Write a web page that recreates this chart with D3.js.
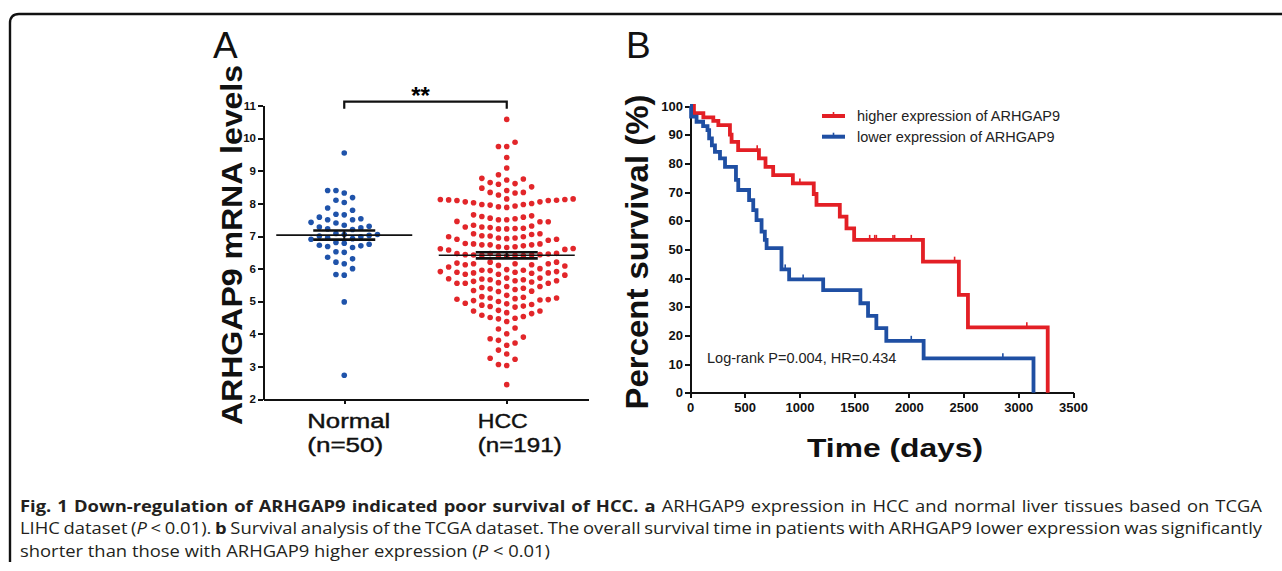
<!DOCTYPE html>
<html>
<head>
<meta charset="utf-8">
<script src="https://cdn.jsdelivr.net/npm/d3@7"></script>
<style>
  body { margin: 0; background: #fff; }
  svg { display: block; }
  .axis path, .axis line { stroke: #111; stroke-width: 2px; shape-rendering: crispEdges; }
  .axis text { font-family: "Liberation Sans", Arial, sans-serif; font-weight: bold; fill: #111; }
  .caption { font-family: "Open Sans", sans-serif; font-size: 16px; fill: #231f20; white-space: pre; }
</style>
</head>
<body>
<script>
const width = 1282;
const height = 571;

// ---- panel A data: ARHGAP9 expression ----
const groups = ['Normal', 'HCC'];
const groupN = ['(n=50)', '(n=191)'];
const normalVals = [
  9.55,
  8.40, 8.32, 8.40,
  8.10, 8.03, 8.18,
  7.79, 7.86, 7.67, 7.65,
  7.53, 7.50, 7.40, 7.33, 7.42, 7.50, 7.58,
  7.30, 7.25, 7.20, 7.28, 7.22,
  7.05, 7.00, 6.95, 7.08, 7.02, 6.98, 6.92, 7.05, 6.90,
  6.75, 6.72, 6.70, 6.80, 6.78, 6.65, 6.68,
  6.52, 6.50, 6.35, 6.30,
  6.20, 6.15, 6.00, 5.80, 5.82,
  4.98, 2.73
];
const hccVals = [
  10.58, 9.88, 9.75, 9.75, 9.41, 9.09,
  8.88, 8.77, 8.72, 8.75,
  8.64, 8.59, 8.47, 8.40, 8.51, 8.61,
  8.34, 8.32, 8.14, 8.11, 8.14, 8.26, 8.34,
  8.12, 8.09, 8.05, 8.02, 7.97, 7.95, 7.90, 7.88, 7.92, 7.97, 8.00, 8.05, 8.09, 8.10, 8.12,
  7.65, 7.60, 7.55, 7.50, 7.45, 7.44, 7.44, 7.50, 7.53, 7.58, 7.62,
  7.31, 7.28, 7.24, 7.22, 7.22, 7.23, 7.26, 7.28, 7.33,
  7.07, 7.01, 6.98, 6.94, 6.90, 6.87, 6.90, 6.92, 6.94, 6.98, 7.00, 7.05, 7.07,
  6.76, 6.73, 6.70, 6.67, 6.62, 6.59, 6.57, 6.61, 6.65, 6.67, 6.73, 6.73, 6.76, 6.77,
  6.46, 6.43, 6.42, 6.41, 6.40, 6.39, 6.40, 6.41, 6.42, 6.43, 6.45, 6.46, 6.47,
  6.20, 6.17, 6.15, 6.12, 6.10, 6.05, 5.97, 6.00, 6.08, 6.12, 6.15, 6.15, 6.20,
  5.95, 5.91, 5.89, 5.87, 5.87, 5.83, 5.80, 5.83, 5.86, 5.89, 5.91, 5.94, 5.95,
  5.71, 5.69, 5.66, 5.63, 5.61, 5.55, 5.55, 5.55, 5.57, 5.59, 5.63, 5.66, 5.68, 5.71,
  5.45, 5.40, 5.38, 5.42, 5.45, 5.33, 5.31, 5.30, 5.36,
  5.12, 5.10, 5.04, 5.02, 5.08, 5.18, 4.99, 5.05, 5.06, 5.10, 5.14,
  4.85, 4.82, 4.90, 4.88, 4.94, 4.92, 4.84,
  4.62, 4.53, 4.70, 4.65, 4.70, 4.72, 4.57, 4.48, 4.46, 4.50,
  4.38, 4.18, 4.15,
  4.00, 3.90, 3.80, 3.85, 3.65, 3.72,
  3.50, 3.38, 3.25, 3.22, 3.06, 3.03,
  2.44
];
const meanVals = [7.03, 6.41];
const semVals = [0.14, 0.095];
const yTicksA = [2, 3, 4, 5, 6, 7, 8, 9, 10, 11];

// ---- panel B data: Kaplan-Meier curves ----
const highT = [0, 36, 122, 213, 259, 365, 380, 440, 630, 690, 760, 940, 1131, 1156, 1369, 1430, 1500, 2129, 2457, 2540, 3269];
const highS = [100, 97.5, 96, 94.8, 93.3, 90, 87.5, 84.6, 81.7, 78.8, 75.9, 73, 69.3, 65.5, 61.4, 57.3, 53.3, 45.7, 34.1, 22.8, 0];
const highCensor = [614, 1004, 1642, 1688, 1703, 1855, 1870, 2022, 2418, 3078];
const lowT = [0, 10, 60, 120, 160, 175, 200, 228, 274, 320, 420, 441, 540, 578, 608, 654, 684, 700, 836, 906, 1217, 1557, 1627, 1703, 1794, 2135, 3139];
const lowS = [100, 96.3, 94.5, 93, 91.6, 88.7, 86.3, 84, 81.7, 78.8, 74.2, 70.7, 67.2, 63.7, 60.2, 56.2, 53.3, 50.4, 43, 39.5, 35.8, 31.2, 26.8, 22.5, 18.1, 12.0, 0];
const lowCensor = [870, 1034, 2022, 2859];
const xTicksB = [0, 500, 1000, 1500, 2000, 2500, 3000, 3500];
const yTicksB = [0, 10, 20, 30, 40, 50, 60, 70, 80, 90, 100];
const seriesNames = ['higher expression of ARHGAP9', 'lower expression of ARHGAP9'];

const blueDot = '#1f53aa';
const redDot = '#e2262a';
const redLine = '#e31f25';
const blueLine = '#1f4fa3';
const font = '"Liberation Sans", Arial, sans-serif';

const svg = d3.select('body').append('svg').attr('width', width).attr('height', height);

// frame (bottom edge is cropped off in the figure)
svg.append('path')
    .attr('d', 'M10,562 V23 Q10,14 19,14 H1300')
    .attr('fill', 'none').attr('stroke', '#111').attr('stroke-width', 2.4);

// ================= panel A =================
const yA = d3.scaleLinear().domain([2, 11]).range([399, 105.7]);
const xA = d3.scalePoint().domain(groups).range([263, 588]).padding(0.5);

const gA = svg.append('g');

gA.append('g').attr('class', 'axis')
    .attr('transform', 'translate(263,0)')
    .call(d3.axisLeft(yA).tickValues(yTicksA).tickSize(5).tickSizeOuter(0).tickPadding(2))
    .selectAll('text').style('font-size', '11.5px');

gA.append('g').attr('class', 'axis')
    .attr('transform', 'translate(0,399)')
    .call(d3.axisBottom(xA).tickSize(5).tickSizeOuter(0).tickFormat(''));

// simple column beeswarm, like GraphPad's scatter layout
function swarm(vals, cx, step, minDy) {
  const cols = new Map();
  const sorted = vals.slice().sort((a, b) => a - b);
  return sorted.map(v => {
    const y = yA(v);
    for (let k = 0; ; k++) {
      const c = k === 0 ? 0 : (k % 2 ? -Math.ceil(k / 2) : k / 2);
      const last = cols.get(c);
      if (last === undefined || Math.abs(last - y) >= minDy) {
        cols.set(c, y);
        return { x: cx + c * step, y: y };
      }
    }
  });
}

const dotSets = [
  { pts: swarm(normalVals, xA('Normal'), 8.3, 8.2), color: blueDot },
  { pts: swarm(hccVals, xA('HCC'), 8.3, 8.2), color: redDot }
];
dotSets.forEach(set => {
  gA.append('g').selectAll('circle')
      .data(set.pts)
      .enter().append('circle')
      .attr('cx', d => d.x)
      .attr('cy', d => d.y)
      .attr('r', 2.8)
      .attr('fill', set.color);
});

// mean and SEM
groups.forEach((g, i) => {
  const cx = xA(g);
  const m = yA(meanVals[i]);
  const hi = yA(meanVals[i] + semVals[i]);
  const lo = yA(meanVals[i] - semVals[i]);
  gA.append('line').attr('x1', cx - 68).attr('x2', cx + 68).attr('y1', m).attr('y2', m)
      .attr('stroke', '#111').attr('stroke-width', 1.6);
  [hi, lo].forEach(y => {
    gA.append('line').attr('x1', cx - 31).attr('x2', cx + 31).attr('y1', y).attr('y2', y)
        .attr('stroke', '#111').attr('stroke-width', 2.6);
  });
  gA.append('line').attr('x1', cx).attr('x2', cx).attr('y1', hi).attr('y2', lo)
      .attr('stroke', '#111').attr('stroke-width', 2);
});

// significance bracket
const bracketY = 101.7;
gA.append('path')
    .attr('d', `M${xA('Normal')},${bracketY + 7}V${bracketY}H${xA('HCC')}V${bracketY + 7}`)
    .attr('fill', 'none').attr('stroke', '#111').attr('stroke-width', 2.2);
gA.append('text')
    .attr('x', (xA('Normal') + xA('HCC')) / 2 - 5).attr('y', 104)
    .attr('text-anchor', 'middle')
    .style('font-family', font).style('font-weight', 'bold').style('font-size', '24px')
    .text('**');

// category labels (left aligned block under each tick)
const labelDx = { Normal: -37, HCC: -29 };
const labelW = { Normal: [83, 76], HCC: [50, 84] };
groups.forEach((g, i) => {
  [g, groupN[i]].forEach((t, j) => {
    gA.append('text')
        .attr('x', xA(g) + labelDx[g]).attr('y', 428 + j * 24)
        .attr('textLength', labelW[g][j]).attr('lengthAdjust', 'spacingAndGlyphs')
        .style('font-family', font).style('font-size', '20px').style('fill', '#111')
        .style('stroke', '#111').style('stroke-width', 0.4)
        .text(t);
  });
});

gA.append('text')
    .attr('transform', 'translate(242,245) rotate(-90)')
    .attr('text-anchor', 'middle')
    .attr('textLength', 360).attr('lengthAdjust', 'spacingAndGlyphs')
    .style('font-family', font).style('font-weight', 'bold').style('font-size', '30px').style('fill', '#111')
    .text('ARHGAP9 mRNA levels');

gA.append('text').attr('x', 213).attr('y', 58)
    .style('font-family', font).style('font-size', '37px').style('fill', '#111')
    .text('A');

// ================= panel B =================
const xB = d3.scaleLinear().domain([0, 3500]).range([690, 1073]);
const yB = d3.scaleLinear().domain([0, 100]).range([392.7, 106]);
const gB = svg.append('g');

gB.append('g').attr('class', 'axis')
    .attr('transform', 'translate(0,392.7)')
    .call(d3.axisBottom(xB).tickValues(xTicksB).tickFormat(d3.format('d'))
      .tickSize(5).tickSizeOuter(0).tickPadding(5))
    .selectAll('text').style('font-size', '13px');

gB.append('g').attr('class', 'axis')
    .attr('transform', 'translate(690,0)')
    .call(d3.axisLeft(yB).tickValues(yTicksB).tickSize(5).tickSizeOuter(0).tickPadding(2))
    .selectAll('text').style('font-size', '13px');

const kmLine = d3.line()
    .x(d => xB(d[0]))
    .y(d => yB(d[1]))
    .curve(d3.curveStepAfter);

const curves = [
  { t: highT, s: highS, c: highCensor, color: redLine },
  { t: lowT, s: lowS, c: lowCensor, color: blueLine }
];
curves.forEach(cv => {
  gB.append('path')
      .datum(d3.zip(cv.t, cv.s))
      .attr('d', kmLine)
      .attr('fill', 'none').attr('stroke', cv.color).attr('stroke-width', 3.8);
  gB.append('g').selectAll('line')
      .data(cv.c)
      .enter().append('line')
      .attr('x1', d => xB(d)).attr('x2', d => xB(d))
      .attr('y1', d => yB(cv.s[d3.bisectRight(cv.t, d) - 1]))
      .attr('y2', d => yB(cv.s[d3.bisectRight(cv.t, d) - 1]) - 5)
      .attr('stroke', cv.color).attr('stroke-width', 1.6);
});

// legend
const legend = gB.append('g').attr('transform', 'translate(822,116)');
seriesNames.forEach((name, i) => {
  const row = legend.append('g').attr('transform', `translate(0,${i * 20.7})`);
  const col = curves[i].color;
  row.append('line').attr('x1', 0).attr('x2', 23).attr('y1', 0).attr('y2', 0)
      .attr('stroke', col).attr('stroke-width', 4);
  row.append('line').attr('x1', 11.5).attr('x2', 11.5).attr('y1', 0).attr('y2', -4)
      .attr('stroke', col).attr('stroke-width', 1.6);
  row.append('text').attr('x', 35).attr('y', 5)
      .style('font-family', font).style('font-size', '14.5px').style('fill', '#222')
      .text(name);
});

gB.append('text').attr('x', 707).attr('y', 363)
    .style('font-family', font).style('font-size', '14.5px').style('fill', '#222')
    .text('Log-rank P=0.004, HR=0.434');

gB.append('text')
    .attr('transform', 'translate(648,252) rotate(-90)')
    .attr('text-anchor', 'middle')
    .attr('textLength', 315).attr('lengthAdjust', 'spacingAndGlyphs')
    .style('font-family', font).style('font-weight', 'bold').style('font-size', '31px').style('fill', '#111')
    .text('Percent survival (%)');

gB.append('text')
    .attr('x', 895).attr('y', 457)
    .attr('text-anchor', 'middle')
    .attr('textLength', 176).attr('lengthAdjust', 'spacingAndGlyphs')
    .style('font-family', font).style('font-weight', 'bold').style('font-size', '25px').style('fill', '#111')
    .text('Time (days)');

gB.append('text').attr('x', 626).attr('y', 58)
    .style('font-family', font).style('font-size', '37px').style('fill', '#111')
    .text('B');

// ================= caption =================
const captionLines = [
  [['Fig. 1 Down-regulation of ARHGAP9 indicated poor survival of HCC.', 'b'], [' ', ''], ['a', 'b'],
   [' ARHGAP9 expression in HCC and normal liver tissues based on TCGA', '']],
  [['LIHC dataset (', ''], ['P', 'i'], [' < 0.01). ', ''], ['b', 'b'],
   [' Survival analysis of the TCGA dataset. The overall survival time in patients with ARHGAP9 lower expression was significantly', '']],
  [['shorter than those with ARHGAP9 higher expression (', ''], ['P', 'i'], [' < 0.01)', '']]
];
const capLeft = 20;
const capRight = 1262;
const capStretch = 1.15; // figure text is set slightly wide
const capG = svg.append('g').attr('transform', `translate(${capLeft},0) scale(${capStretch},1)`);
captionLines.forEach((parts, i) => {
  const txt = capG.append('text').attr('class', 'caption')
      .attr('x', 0).attr('y', 512 + i * 22.3);
  parts.forEach(p => {
    txt.append('tspan').text(p[0])
        .style('font-weight', p[1] === 'b' ? 'bold' : null)
        .style('font-style', p[1] === 'i' ? 'italic' : null);
  });
  if (i < captionLines.length - 1) {
    const natural = txt.node().getComputedTextLength();
    const spaces = parts.map(p => p[0]).join('').split(' ').length - 1;
    txt.style('word-spacing', (((capRight - capLeft) / capStretch - natural) / spaces) + 'px');
  }
});
</script>
</body>
</html>
